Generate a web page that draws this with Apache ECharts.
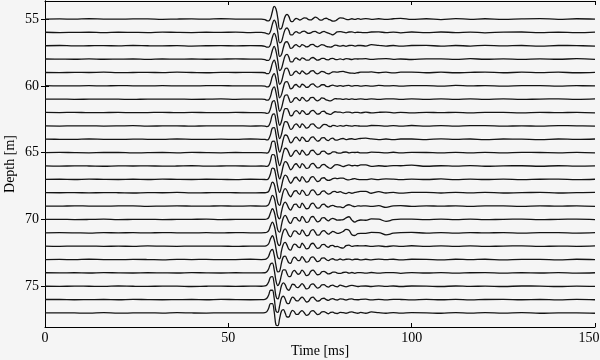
<!DOCTYPE html>
<html><head><meta charset="utf-8">
<script src="https://cdn.jsdelivr.net/npm/echarts@6/dist/echarts.min.js"></script>
<style>html,body{margin:0;padding:0;background:#f5f5f5}#c{width:600px;height:360px}</style>
</head><body><div id="c"></div>
<script>
// sample times (ms): 15 pre-arrival, 21 wavelet, 17 + 8 coda, 18 late
const timeMs = [0,4,8,12,16,20,24,28,32,36,40,44,48,52,56,
  59,60,60.5,61,61.5,62,62.5,63,63.5,64,64.5,65,65.5,66,66.5,67,67.5,68,68.5,69,69.5,
  70.1,70.7,71.3,71.9,72.5,73.1,73.7,74.3,74.9,75.5,76.1,76.7,77.3,77.9,78.5,79.1,79.7,
  80.5,81.3,82.1,82.9,83.7,84.5,85.3,86.1,
  87.5,89,91,93,95,97,100,104,108,112,116,120,125,130,135,140,145,150];
const depths = [55,56,57,58,59,60,61,62,63,64,65,66,67,68,69,70,71,72,73,74,75,76,77];
const xTicks = [0,50,100,150];
const yTicks = [55,60,65,70,75];
// trace amplitudes (in metres of trace offset, positive = up)
const trace55 = [0,.01,-.01,.02,0,-.01,.01,.01,-.02,0,.01,-.01,.02,0,-.01,
  0,-.04,-.12,-.14,.05,.55,.95,.75,.05,-.75,-.7,-.25,.2,.35,.2,-.15,-.2,-.05,.05,0,-.08,
  0,.08,.06,-.04,-.07,.03,.14,.08,-.06,-.08,.02,.06,-.02,-.08,-.16,-.14,-.04,
  .08,.06,-.02,-.04,.02,-.03,.03,-.02,
  .03,-.02,.02,-.03,.02,.05,-.03,.02,-.04,.03,-.02,.02,-.03,.01,.03,-.02,.02,-.01];
const trace56 = [.01,-.01,0,.01,-.02,.01,0,-.01,.02,0,-.01,.01,0,.02,-.01,
  0,-.03,-.1,-.13,.08,.6,.92,.68,-.02,-.78,-.68,-.2,.22,.33,.15,-.18,-.18,-.02,.06,-.02,-.06,
  .06,.1,0,-.08,-.04,.06,.08,-.02,-.07,.02,.07,0,-.06,-.12,-.18,-.08,.04,
  .06,.02,-.03,.03,.04,-.02,.01,0,
  -.02,.03,.04,-.02,.02,-.03,.03,-.02,.03,-.01,.02,-.03,.02,.03,-.02,.01,-.02,.02];
const trace57 = [0,.02,-.01,0,.01,-.01,.02,0,-.01,.01,-.02,0,.01,-.01,.01,
  0,-.04,-.1,-.1,.1,.62,.93,.65,-.05,-.8,-.65,-.15,.25,.3,.1,-.2,-.15,.02,.08,-.02,-.08,
  .08,.02,-.08,-.04,.08,.1,-.02,-.08,0,.08,.04,-.05,-.08,-.1,-.04,.04,.02,
  -.03,.02,-.04,.02,.03,-.02,.02,.02,
  -.02,.08,.03,-.02,.02,-.03,.02,.03,-.03,.02,-.02,.03,-.01,.02,-.03,.02,.01,-.02];
const trace58 = [.01,0,-.01,.02,-.01,0,.01,-.02,.01,0,.01,-.01,0,.02,0,
  0,-.03,-.1,-.1,.15,.65,.95,.6,-.15,-.85,-.7,-.2,.25,.35,.15,-.2,-.2,0,.1,0,-.08,
  .1,.04,-.08,-.08,.06,.12,.02,-.08,-.04,.06,.06,-.04,-.05,.04,.06,-.02,-.04,
  .02,-.04,.03,.01,-.03,.02,.01,.02,
  .03,-.02,.02,.04,-.02,.01,-.03,.02,.02,-.02,.03,-.01,.02,-.02,.02,-.01,.03,-.02];
const trace59 = [0,-.01,.01,0,.02,-.01,0,.01,-.01,.02,0,-.02,.01,0,.01,
  0,-.02,-.08,-.08,.18,.68,.93,.55,-.2,-.88,-.68,-.15,.28,.33,.1,-.22,-.18,.02,.1,-.02,-.1,
  .12,0,-.12,-.06,.1,.14,-.02,-.1,-.02,.08,.05,-.06,-.1,-.04,.04,.05,.02,
  .06,.08,.02,-.03,-.05,-.06,-.02,.02,
  .02,.04,-.02,.02,-.03,.02,.03,-.02,.02,-.02,.01,.03,-.02,.02,-.01,.02,-.02,.01];
const trace60 = [.01,-.01,0,.01,-.01,.02,0,-.01,.01,0,-.01,.01,.02,-.01,0,
  0,-.02,-.08,-.06,.2,.7,.92,.52,-.25,-.9,-.66,-.12,.28,.32,.08,-.22,-.16,.04,.1,-.02,-.1,
  .12,.04,-.12,-.08,.1,.14,0,-.1,-.04,.08,.08,-.04,-.06,.02,.05,0,-.03,
  .02,-.03,.02,.03,-.02,.02,.01,-.02,
  .02,-.02,.03,-.01,.02,-.02,.01,.02,-.02,.03,-.01,.02,-.02,.01,.02,-.02,.01,0];
const trace61 = [0,.01,-.01,0,.01,0,-.02,.01,0,.01,-.01,0,.02,-.01,.01,
  0,-.02,-.07,-.05,.22,.72,.92,.5,-.28,-.9,-.65,-.1,.3,.32,.06,-.24,-.16,.05,.12,0,-.1,
  .14,.02,-.14,-.08,.12,.14,-.02,-.12,-.04,.1,.06,-.05,-.1,-.12,-.04,.04,.03,
  .02,-.02,.03,-.01,.02,-.02,.01,.02,
  -.02,.03,-.02,.02,.03,-.02,.02,-.01,.02,-.02,.03,-.01,.02,-.02,.01,.02,-.01,.02];
const trace62 = [.01,0,.02,-.01,0,.01,-.01,0,.02,-.01,.01,0,-.01,.01,0,
  0,-.02,-.06,-.02,.3,.8,.9,.4,-.4,-.95,-.65,-.05,.3,.3,.05,-.25,-.2,.05,.15,.05,-.1,
  .14,.04,-.14,-.1,.1,.16,.02,-.12,-.08,.08,.1,-.04,-.1,-.14,-.02,.06,.04,
  .03,-.02,.03,.04,-.02,.01,.02,-.02,
  .03,-.02,.02,.04,-.02,.02,-.03,.02,-.01,.02,-.02,.02,.01,-.02,.02,-.01,.02,-.02];
const trace63 = [0,-.01,.01,.01,-.01,0,.02,-.01,0,.01,-.02,.01,0,.01,-.01,
  0,-.02,-.05,0,.32,.82,.9,.38,-.42,-.95,-.62,-.02,.32,.3,.02,-.26,-.18,.06,.16,.04,-.12,
  .16,.02,-.16,-.1,.12,.16,0,-.14,-.16,0,.12,.1,-.02,-.06,.04,.02,-.03,
  .02,-.02,.04,.01,-.02,.02,.01,-.02,
  -.02,.03,.02,-.02,.02,-.01,.03,-.02,.02,-.01,.02,.02,-.02,.01,-.02,.02,.01,-.01];
const trace64 = [.01,0,-.01,.02,0,-.01,.01,0,-.01,.02,0,-.01,.01,-.01,.02,
  0,-.01,-.05,.02,.35,.84,.88,.35,-.45,-.96,-.6,0,.32,.28,0,-.27,-.17,.07,.16,.03,-.12,
  .16,.04,-.16,-.12,.12,.18,.02,-.14,-.08,.1,.12,-.04,-.1,.04,.08,-.04,-.06,
  .02,.06,-.03,.02,.04,0,.03,.06,
  .08,.03,-.02,.02,-.03,.02,.02,-.02,.03,-.01,.02,-.02,.02,.01,-.02,.02,-.01,.02];
const trace65 = [0,.02,0,-.01,.01,.01,-.02,0,.01,-.01,.02,0,-.01,.01,0,
  0,-.01,-.04,.04,.38,.85,.86,.3,-.5,-.97,-.58,.02,.33,.27,-.02,-.28,-.16,.08,.17,.02,-.14,
  .18,.02,-.18,-.12,.14,.18,0,-.14,-.1,.1,.12,-.02,-.1,-.06,.06,.06,-.02,
  -.04,.03,.05,-.02,.02,.01,.03,-.02,
  -.02,.04,.02,-.02,.03,-.02,.02,.01,-.02,.02,-.01,.02,-.02,.02,.01,-.01,.02,-.02];
const trace66 = [.01,-.01,.01,0,-.02,.01,0,.01,-.01,0,.02,-.01,0,.01,-.01,
  0,-.01,-.03,.05,.4,.85,.84,.28,-.52,-.97,-.56,.04,.33,.26,-.04,-.28,-.15,.08,.17,.02,-.14,
  .18,.04,-.18,-.14,.12,.2,.04,-.14,-.12,.08,.12,0,-.12,-.18,-.06,.08,.1,
  .04,-.04,.03,.08,.02,.05,.02,.08,
  .08,-.03,.02,-.02,.03,.02,.06,-.02,.02,-.01,.03,-.02,.01,.02,-.02,.02,-.01,.01];
const trace67 = [0,.01,-.01,.02,0,-.01,.01,-.01,.02,0,-.01,.01,0,-.02,.01,
  0,-.01,-.02,.07,.42,.84,.8,.22,-.58,-.97,-.52,.06,.32,.22,-.08,-.29,-.14,.1,.16,0,-.14,
  .2,.02,-.2,-.14,.14,.2,.02,-.16,-.1,.1,.12,-.02,-.08,-.04,.06,.1,.06,
  .1,.1,0,-.04,.02,.05,0,-.02,
  -.02,.03,-.02,.04,.02,-.02,.02,-.01,.03,-.02,.02,-.01,.02,-.02,.01,.02,-.02,.01];
const trace68 = [.01,0,.01,-.01,.01,0,-.02,.01,0,.02,-.01,0,.01,0,-.01,
  0,0,.02,.1,.45,.8,.65,0,-.75,-.95,-.45,.1,.3,.15,-.15,-.3,-.1,.12,.15,-.02,-.12,
  .2,.04,-.2,-.16,.14,.22,.04,-.16,-.12,.1,.14,0,-.1,-.05,.08,.1,.02,
  .08,-.02,-.06,.02,-.04,.02,.06,.1,
  .1,-.04,.08,-.02,.02,-.03,.02,.02,-.02,.03,-.01,.02,-.02,.01,.02,-.02,.01,.02];
const trace69 = [0,-.01,.02,0,-.01,.01,.01,-.02,0,.01,0,-.01,.02,-.01,.01,
  0,0,.02,.12,.47,.8,.62,-.04,-.78,-.95,-.42,.12,.3,.13,-.17,-.3,-.08,.13,.14,-.03,-.12,
  .22,.02,-.2,-.16,.14,.22,.02,-.16,-.12,.1,.14,0,-.08,.02,.06,-.02,-.06,
  -.06,-.12,.04,.1,.02,-.04,.02,0,
  .02,-.02,.03,-.1,.02,.03,-.02,.02,-.01,.02,-.02,.02,.01,-.02,.02,-.01,.02,-.02];
const trace70 = [.01,.01,-.01,0,.02,-.01,0,.01,-.01,0,.01,.02,-.01,0,.01,
  0,0,.03,.14,.5,.8,.58,-.08,-.8,-.95,-.4,.13,.3,.12,-.18,-.3,-.06,.14,.13,-.04,-.12,
  .22,.04,-.22,-.16,.16,.22,.02,-.18,-.12,.1,.14,0,-.1,.02,.08,.02,-.05,
  -.04,-.02,.12,.2,-.05,-.2,-.08,-.04,
  -.06,.04,.02,-.14,-.02,.03,.02,-.02,.03,-.01,.02,-.02,.01,.02,-.02,.01,.02,-.01];
const trace71 = [0,.01,0,-.02,.01,0,.01,-.01,.02,0,-.01,.01,-.01,.02,0,
  0,.01,.04,.16,.52,.8,.55,-.12,-.82,-.95,-.38,.14,.3,.1,-.2,-.3,-.05,.15,.12,-.05,-.12,
  .22,.02,-.22,-.18,.14,.24,.04,-.18,-.14,.1,.16,.02,-.1,0,.1,.04,-.04,
  0,.1,.25,.2,-.14,-.2,-.06,-.04,
  -.04,.03,.02,-.15,-.03,.02,.03,-.02,.02,-.02,.02,-.01,.02,-.02,.01,.02,-.02,.01];
const trace72 = [.01,-.01,.01,.01,-.01,0,-.01,.02,0,-.01,.01,0,.01,-.02,.01,
  0,.01,.05,.18,.55,.78,.5,-.18,-.85,-.95,-.35,.15,.28,.08,-.22,-.3,-.03,.16,.11,-.06,-.1,
  .22,.04,-.2,-.16,.14,.22,.02,-.16,-.12,.1,.14,0,-.08,.04,.06,-.04,-.02,
  -.1,-.14,.04,.08,-.02,.02,.03,.02,
  .03,-.02,.02,-.03,.02,-.01,.03,-.02,.02,-.01,.02,-.02,.01,.02,-.02,.01,-.01,.02];
const trace73 = [0,.01,-.01,.02,0,-.01,.01,0,-.02,.01,0,.01,-.01,0,.02,
  0,.01,.07,.25,.62,.75,.35,-.45,-.92,-.85,-.25,.2,.25,.02,-.25,-.28,.02,.18,.08,-.08,-.06,
  .22,.02,-.2,-.14,.14,.2,.02,-.16,-.1,.1,.12,0,-.08,.02,.06,-.03,-.04,
  .04,-.03,.02,.03,-.02,.02,.02,-.02,
  .02,-.02,.03,-.01,.02,-.02,.02,.01,-.02,.02,-.01,.02,-.02,.01,.01,-.02,.02,-.01];
const trace74 = [.01,0,.01,-.01,.02,0,-.01,.01,0,-.01,.02,0,-.01,.01,0,
  0,.01,.08,.3,.66,.73,.25,-.6,-.95,-.7,-.15,.22,.22,-.05,-.28,-.25,.06,.19,.05,-.1,-.04,
  .2,.04,-.2,-.14,.12,.2,.04,-.14,-.1,.08,.12,.02,-.08,-.04,.06,.06,-.02,
  -.04,.03,.05,-.02,.03,-.03,.02,.02,
  -.02,.03,-.02,.02,.02,-.03,.02,-.01,.02,-.02,.01,.02,-.02,.01,-.01,.02,-.02,.01];
const trace75 = [0,-.01,.01,0,-.01,.02,0,-.01,.01,.01,-.02,0,.01,-.01,.01,
  0,.02,.09,.32,.68,.72,.18,-.75,-.95,-.55,.05,.25,.12,-.2,-.3,-.08,.15,.12,-.05,-.1,.02,
  .2,.02,-.2,-.14,.12,.18,.02,-.14,-.08,.1,.12,0,-.06,.04,.08,0,-.04,
  .08,.02,-.04,.02,.07,.02,-.02,.01,
  .02,-.02,.03,-.01,.02,-.02,.02,.01,-.02,.02,-.01,.01,-.02,.02,.01,-.02,.01,-.01];
const trace76 = [.01,.01,-.01,0,.01,-.01,.02,0,-.01,0,.01,-.01,.02,0,-.01,
  0,.02,.1,.34,.7,.7,.12,-.85,-.95,-.45,.12,.25,.05,-.27,-.3,-.02,.18,.1,-.08,-.1,.04,
  .18,.04,-.18,-.12,.12,.18,.02,-.12,-.08,.08,.1,0,-.06,.04,.07,0,-.03,
  .06,.03,-.03,.03,.05,0,-.01,.02,
  .03,-.02,.02,-.02,.02,.01,-.02,.02,-.01,.02,-.02,.01,.02,-.01,.01,-.02,.02,-.01];
const trace77 = [0,.01,0,-.01,.02,-.01,0,.01,-.01,.02,0,-.01,.01,0,.01,
  0,.02,.1,.35,.7,.7,.1,-.9,-.95,-.4,.15,.25,0,-.3,-.3,0,.2,.1,-.1,-.1,.05,
  .18,.02,-.18,-.12,.12,.18,.04,-.12,-.08,.08,.1,.02,-.06,.04,.06,-.02,-.04,
  .04,.02,-.02,.04,.08,.02,-.02,.04,
  -.02,.08,.02,-.02,.02,-.01,.02,.01,-.02,.02,-.01,.02,-.01,.02,-.02,.01,.01,-.02];
const traces = [trace55,trace56,trace57,trace58,trace59,trace60,trace61,trace62,trace63,trace64,trace65,trace66,
  trace67,trace68,trace69,trace70,trace71,trace72,trace73,trace74,trace75,trace76,trace77];

const FONT = 'Liberation Serif';
const bad = traces.map((v,k)=>v.length!==timeMs.length?depths[k]+':'+v.length:null).filter(x=>x);
const chart = echarts.init(document.getElementById('c'));
const series = traces.map((v,k)=>({
  type:'line', name:String(depths[k]), showSymbol:false, symbol:'none', smooth:0.4,
  silent:true, animation:false,
  lineStyle:{color:'#141414', width:1.3},
  data: v.map((a,i)=>[timeMs[i], depths[k]-a])
}));
const axisCommon = {
  axisLine:{show:true, lineStyle:{color:'#000', width:1}},
  splitLine:{show:false}
};
const xMax = xTicks[xTicks.length-1];
chart.setOption({
  backgroundColor:'#f5f5f5',
  animation:false,
  grid:{left:45, right:5, top:1, bottom:33, show:false, outerBoundsMode:'none', containLabel:false},
  xAxis:[
    Object.assign({type:'value', min:0, max:xMax, interval:50, position:'bottom',
      axisTick:{show:true, inside:true, length:4, lineStyle:{color:'#000'}},
      axisLabel:{color:'#000', fontFamily:FONT, fontSize:14, margin:4,
        formatter:v=> v===xMax ? '{m|'+v+'}' : String(v),
        rich:{m:{color:'#000', fontFamily:FONT, fontSize:14, padding:[0,12,0,0]}}},
      name:'Time [ms]', nameLocation:'middle', nameGap:17, nameMoveOverlap:false,
      nameTextStyle:{color:'#000', fontFamily:FONT, fontSize:14}}, axisCommon),
    Object.assign({type:'value', min:0, max:xMax, interval:50, position:'top',
      axisTick:{show:true, inside:true, length:4, lineStyle:{color:'#000'}},
      axisLabel:{show:false}}, axisCommon)
  ],
  yAxis:[
    Object.assign({type:'value', min:53.65, max:78.05, inverse:true, position:'left',
      axisTick:{show:true, inside:true, length:4, customValues:yTicks, lineStyle:{color:'#000'}},
      axisLabel:{color:'#000', fontFamily:FONT, fontSize:14, margin:6, customValues:yTicks, padding:[3,0,0,0]},
      name:'Depth [m]', nameLocation:'middle', nameGap:28, nameMoveOverlap:false,
      nameTextStyle:{color:'#000', fontFamily:FONT, fontSize:14}}, axisCommon),
    Object.assign({type:'value', min:53.65, max:78.05, inverse:true, position:'right',
      axisTick:{show:true, inside:true, length:4, customValues:yTicks, lineStyle:{color:'#000'}},
      axisLabel:{show:false}}, axisCommon)
  ],
  graphic: bad.length ? [{type:'text', left:100, top:100, style:{text:'LEN ERR '+bad.join(' '), fontSize:20, fill:'red'}}] : [],
  series: series
});
</script></body></html>
